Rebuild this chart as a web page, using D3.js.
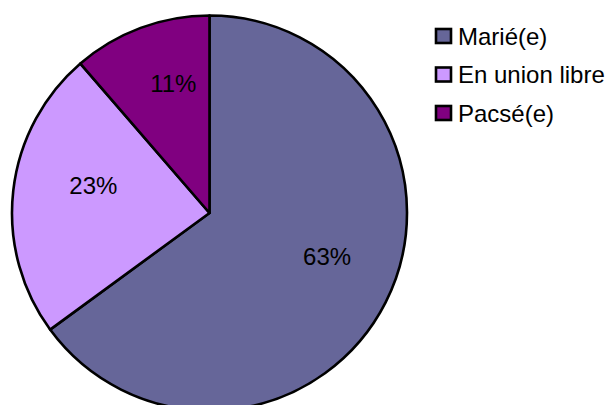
<!DOCTYPE html>
<html>
<head>
<meta charset="utf-8">
<script src="https://cdn.jsdelivr.net/npm/d3@7"></script>
<style>
  html, body { margin: 0; padding: 0; background: #fff; }
  svg { display: block; font-family: "Liberation Sans", Arial, sans-serif; }
</style>
</head>
<body>
<svg id="chart" width="613" height="405"></svg>
<script>
const categories = ["Marié(e)", "En union libre", "Pacsé(e)"];
const values = [63, 23, 11];
const colors = ["#666699", "#CC99FF", "#800080"];

const svg = d3.select("#chart");
const cx = 209.5, cy = 213, R = 197.5;
// label layout (relative to pie centre)
const labelR = 124, labelDx = 7, labelDy = -13;

const data = categories.map((c, i) => ({ name: c, value: values[i], color: colors[i] }));
const pie = d3.pie().value(d => d.value).sort(null);
const arcs = pie(data);
const arc = d3.arc().innerRadius(0).outerRadius(R);
const labelArc = d3.arc().innerRadius(labelR).outerRadius(labelR);

const g = svg.append("g").attr("transform", `translate(${cx},${cy})`);
g.selectAll("path.slice")
  .data(arcs)
  .join("path")
  .attr("class", "slice")
  .attr("d", arc)
  .attr("fill", d => d.data.color)
  .attr("stroke", "#000")
  .attr("stroke-width", 2.6)
  .attr("stroke-linejoin", "round");

g.selectAll("text.lbl")
  .data(arcs)
  .join("text")
  .attr("class", "lbl")
  .attr("transform", d => {
    const [x, y] = labelArc.centroid(d);
    return `translate(${x + labelDx},${y + labelDy})`;
  })
  .attr("text-anchor", "middle")
  .attr("dominant-baseline", "central")
  .attr("font-size", 24)
  .attr("fill", "#000")
  .text(d => d.data.value + "%");

const legend = svg.append("g").attr("transform", "translate(436,36)");
const rowH = 38.5;
const items = legend.selectAll("g.item")
  .data(data)
  .join("g")
  .attr("class", "item")
  .attr("transform", (d, i) => `translate(0,${i * rowH})`);
items.append("rect")
  .attr("x", 0).attr("y", -7)
  .attr("width", 15).attr("height", 14)
  .attr("fill", d => d.color)
  .attr("stroke", "#000")
  .attr("stroke-width", 2.6);
items.append("text")
  .attr("x", 22)
  .attr("dominant-baseline", "central")
  .attr("font-size", 24)
  .attr("fill", "#000")
  .text(d => d.name);
</script>
</body>
</html>
